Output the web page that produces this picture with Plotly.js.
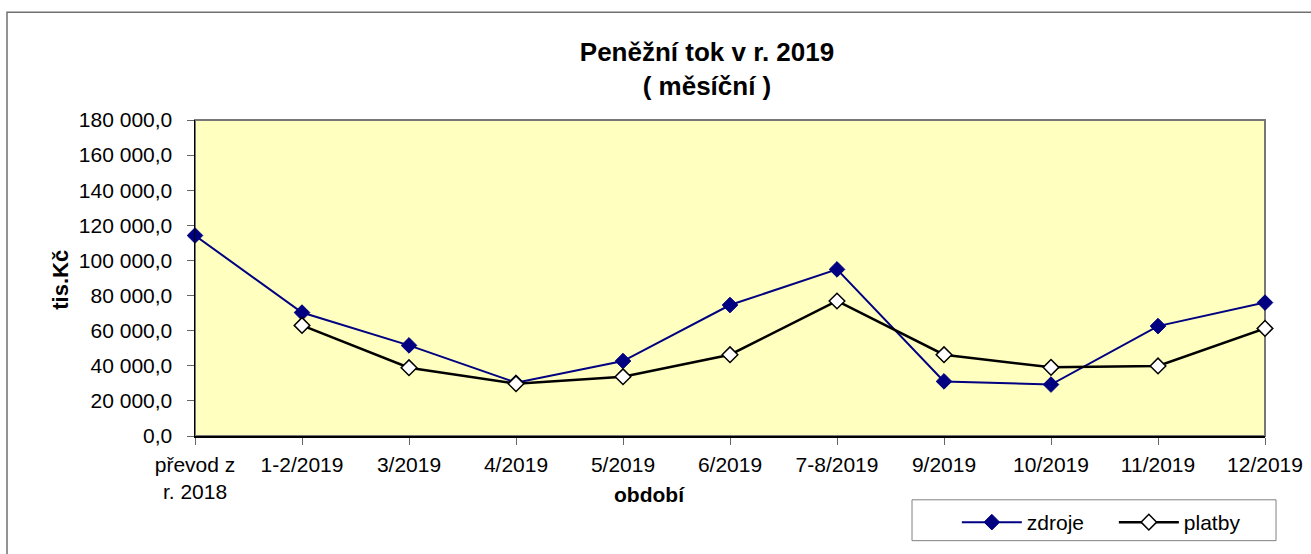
<!DOCTYPE html>
<html>
<head>
<meta charset="utf-8">
<script src="https://cdn.plot.ly/plotly-3.0.1.min.js"></script>
<style>
html,body{margin:0;padding:0;background:#fff;}
#chart{width:1311px;height:554px;}
</style>
</head>
<body>
<div id="chart"></div>
<script>
const categories = ["převod z<br>r. 2018", "1-2/2019", "3/2019", "4/2019", "5/2019", "6/2019", "7-8/2019", "9/2019", "10/2019", "11/2019", "12/2019"];
const zdroje = [114200, 70300, 51600, 30400, 42700, 74600, 94900, 31100, 29300, 62600, 76000];
const platby = [null, 63000, 38900, 29800, 33800, 46300, 76900, 46300, 39100, 39900, 61300];
const seriesNames = ["zdroje", "platby"];
const chartTitle = "Peněžní tok v r. 2019<br>( měsíční )";
const yTitle = "tis.Kč";
const xTitle = "období";

const FONT = "'Liberation Sans', Arial, sans-serif";

const traces = [
  {
    x: categories, y: zdroje, name: seriesNames[0], type: "scatter", mode: "lines+markers",
    line: {color: "#000080", width: 2},
    marker: {symbol: "diamond", size: 12, color: "#000080", line: {color: "#000080", width: 1}},
    cliponaxis: false
  },
  {
    x: categories, y: platby, name: seriesNames[1], type: "scatter", mode: "lines+markers",
    line: {color: "#000000", width: 2.5},
    marker: {symbol: "diamond", size: 12, color: "#ffffff", line: {color: "#000000", width: 1.5}},
    cliponaxis: false
  }
];

const layout = {
  width: 1311, height: 554,
  margin: {l: 195, r: 46, t: 120, b: 117},
  paper_bgcolor: "#ffffff",
  plot_bgcolor: "#FFFFC0",
  font: {family: FONT, size: 21, color: "#000"},
  separators: ", ",
  showlegend: true,
  title: {
    text: chartTitle,
    font: {family: FONT, size: 26, color: "#000", weight: "bold"},
    xref: "paper", x: 0.4785, xanchor: "center",
    yref: "container", y: 0.89, yanchor: "middle"
  },
  xaxis: {
    type: "category",
    range: [0, 10],
    showgrid: false, zeroline: false,
    showline: true, linecolor: "#000", linewidth: 1.5,
    ticks: "outside", ticklen: 7, tickcolor: "#666", tickwidth: 1,
    tickfont: {family: FONT, size: 21, color: "#000"},
    ticklabelstandoff: 2,
    fixedrange: true
  },
  yaxis: {
    range: [0, 180000],
    dtick: 20000, tick0: 0,
    tickformat: ",.1f",
    showgrid: false, zeroline: false,
    showline: true, linecolor: "#000", linewidth: 1.5,
    ticks: "outside", ticklen: 7, tickcolor: "#666", tickwidth: 1,
    tickfont: {family: FONT, size: 21, color: "#000"},
    ticklabelstandoff: 10,
    fixedrange: true
  },
  legend: {
    orientation: "h",
    xref: "paper", yref: "paper",
    x: 0.712, y: -0.205, xanchor: "left", yanchor: "top",
    borderwidth: 0,
    bgcolor: "rgba(0,0,0,0)",
    font: {family: FONT, size: 21, color: "#000"},
    itemwidth: 60,
    entrywidth: 82
  },
  annotations: [
    {
      text: yTitle, xref: "paper", yref: "paper", x: -0.126, y: 0.495,
      xanchor: "center", yanchor: "middle", textangle: -90, showarrow: false,
      font: {family: FONT, size: 22, color: "#000", weight: "bold"}
    },
    {
      text: xTitle, xref: "paper", yref: "paper", x: 0.425, y: -0.184,
      xanchor: "center", yanchor: "middle", showarrow: false,
      font: {family: FONT, size: 21, color: "#000", weight: "bold"}
    }
  ],
  shapes: [
    {
      type: "rect", xref: "paper", yref: "paper", layer: "below",
      x0: -0.1757, x1: 1.06, y0: -0.40, y1: 1.3407,
      line: {color: "#707070", width: 1.5}, fillcolor: "rgba(0,0,0,0)"
    },
    {
      type: "rect", xref: "paper", yref: "paper", layer: "below",
      x0: 0, x1: 1, y0: 0, y1: 1,
      line: {color: "#777777", width: 2}, fillcolor: "rgba(0,0,0,0)"
    },
    {
      type: "rect", xref: "paper", yref: "paper", layer: "below",
      x0: 0.6701, x1: 1.0103, y0: -0.2019, y1: -0.3312,
      line: {color: "#808080", width: 1}, fillcolor: "#ffffff"
    }
  ]
};

Plotly.newPlot("chart", traces, layout, {displayModeBar: false, staticPlot: true});
</script>
</body>
</html>
